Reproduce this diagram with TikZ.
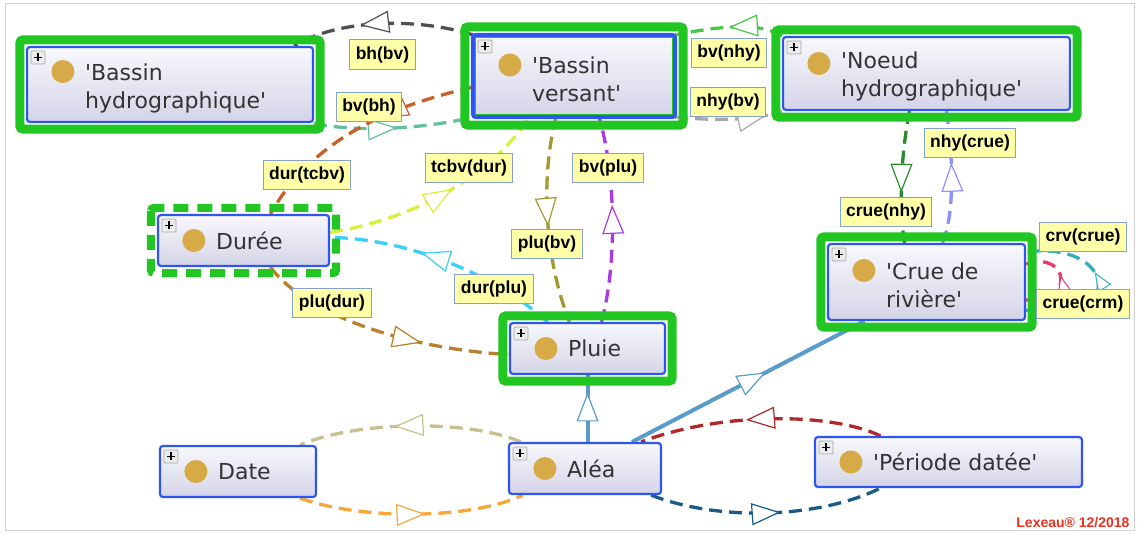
\documentclass[tikz,border=0pt]{standalone}
\usepackage{fontspec}
\usetikzlibrary{calc,arrows.meta,decorations.markings}
\newfontfamily\clsfont{DejaVu Sans}[Ligatures=TeXOff]
\newfontfamily\tagfont{Liberation Sans}
\definecolor{clsb}{HTML}{2F55F0}
\definecolor{frc}{HTML}{22C622}
\definecolor{dotc}{HTML}{D6AA46}
\definecolor{txtc}{HTML}{333333}
\definecolor{boxtop}{HTML}{F8F8FC}
\definecolor{boxbot}{HTML}{D4D4E8}
\definecolor{tagfill}{HTML}{FFFFA8}
\definecolor{tagline}{HTML}{86A2C8}
\definecolor{lexred}{HTML}{E8321E}
\definecolor{relgray}{HTML}{505050}
\definecolor{relteal}{HTML}{62C09E}
\definecolor{relrust}{HTML}{C8602A}
\definecolor{rellime}{HTML}{D8F03A}
\definecolor{relcyan}{HTML}{38D0F8}
\definecolor{relolive}{HTML}{A09A30}
\definecolor{relpurple}{HTML}{A83CE0}
\definecolor{relbrown}{HTML}{B8802A}
\definecolor{relgreen}{HTML}{48C848}
\definecolor{relsilver}{HTML}{A8A8A8}
\definecolor{reldkgreen}{HTML}{2A8A30}
\definecolor{relperi}{HTML}{8C90FF}
\definecolor{isac}{HTML}{5A9CC8}
\definecolor{relkhaki}{HTML}{C8C090}
\definecolor{relorange}{HTML}{F8A838}
\definecolor{relred}{HTML}{B02828}
\definecolor{relnavy}{HTML}{1A5A88}
\definecolor{relpink}{HTML}{F03870}
\definecolor{relturq}{HTML}{30B0B8}
\pgfdeclarelayer{bg}
\pgfsetlayers{bg,main}
\tikzset{
  tri/.tip={Triangle[length=29pt,width=22pt,fill=white,line width=1.2pt]},
  tris/.tip={Triangle[length=19pt,width=15pt,fill=white,line width=1pt]},
  cls/.style={draw=clsb,line width=2.2pt,rounded corners=3pt,top color=boxtop,bottom color=boxbot,inner sep=0pt},
  ctext/.style={anchor=west,align=left,inner sep=0pt,text=txtc,font=\clsfont\fontsize{22}{28}\selectfont},
  frame/.style={draw=frc,line width=9pt,rounded corners=3pt},
  pluss/.style={draw=gray!70,fill=gray!15,line width=0.7pt,rounded corners=1pt},
  tag/.style={draw=tagline,fill=tagfill,line width=1pt,inner xsep=6pt,inner ysep=6.5pt,font=\tagfont\bfseries\fontsize{17.5}{20}\selectfont},
  rel/.style={line width=3.3pt,dash pattern=on 13pt off 7pt},
  isa/.style={line width=4pt,isac},
  tipat/.style={postaction={decorate,decoration={markings,mark=at position #1 with {\arrow{tri}}}}},
  looptip/.style={postaction={decorate,decoration={markings,mark=at position #1 with {\arrow{tris}}}}}
}
\begin{document}
\begin{tikzpicture}[x=1pt,y=-1pt]
\useasboundingbox (0,0) rectangle (1137,533);
\draw[gray!35,line width=1pt] (5,3) rectangle (1134,530);
% classes
\foreach \n/\cx/\cy/\w/\h/\dy/\t in {
  bh/170/84.5/286/75/13/{'Bassin\\hydrographique'},
  bv/574/76/200/80/11/{'Bassin\\versant'},
  nhy/926.5/73.5/287/73/10/{'Noeud\\hydrographique'},
  dur/243.5/240.5/171/51/0/{Durée},
  crue/926.5/282/197/76/11.5/{'Crue de\\rivière'},
  plu/587.5/348.5/155/51/0/{Pluie},
  date/238/471.5/156/51/0/{Date},
  alea/585/468.5/152/51/0/{Aléa},
  per/948.5/462/267/50/0/{'Période datée'}}{
  \node[cls,minimum width=\w,minimum height=\h] (\n) at (\cx,\cy) {};
  \fill[dotc] ($(\n.west)+(37,-\dy)$) circle (11.5pt);
  \draw[pluss] ($(\n.north west)+(5,5)$) rectangle ($(\n.north west)+(19,18)$);
  \draw[line width=1.3pt] ($(\n.north west)+(8,11.5)$) -- ++(8,0) ($(\n.north west)+(12,7.5)$) -- ++(0,8);
  \node[ctext] (t\n) at ($(\n.west)+(59,0.3*\dy)$) {\t};
}
% frames
\foreach \n/\o in {bh/6,bv/8,nhy/6,crue/6,plu/6}
  \draw[frame] ($(\n.north west)+(-\o,-\o)$) rectangle ($(\n.south east)+(\o,\o)$);
\draw[frame,line width=8pt,dash pattern=on 15pt off 9pt] ($(dur.north west)+(-6,-6)$) rectangle ($(dur.south east)+(6,6)$);
\draw[clsb,line width=4pt,rounded corners=3pt] (bv.north west) rectangle (bv.south east);
\draw[frc,line width=1pt] ($(bv.north west)+(3,3)$) rectangle ($(bv.south east)+(-3,-3)$);
% relations
\begin{pgfonlayer}{bg}
\draw[rel,relgray,tipat=.62] (bv.north west) .. controls (420,18) and (340,18) .. ($(bh.north east)+(-20,0)$);
\draw[rel,relteal,tipat=.52] (bh.south east) .. controls (350,132) and (420,130) .. (bv.south west);
\draw[rel,relrust,tipat=.4] ($(bv.west)+(0,11)$) .. controls (420,100) and (320,125) .. ($(dur.north)+(27,0)$);
\draw[rel,rellime,tipat=.55] ($(dur.east)+(0,-8)$) .. controls (395,222) and (480,190) .. ($(bv.south)+(-44,0)$);
\draw[rel,relcyan,tipat=.61] ($(plu.north)+(-40,0)$) .. controls (490,270) and (400,238) .. ($(dur.east)+(0,-3)$);
\draw[rel,relolive,tipat=.53] ($(bv.south)+(-18,0)$) .. controls (540,180) and (545,260) .. ($(plu.north)+(-18,0)$);
\draw[rel,relpurple,tipat=.57] ($(plu.north)+(14,0)$) .. controls (618,260) and (615,170) .. ($(bv.south)+(25,0)$);
\draw[rel,relbrown,tipat=.66] ($(dur.south)+(27,0)$) .. controls (310,320) and (420,350) .. ($(plu.west)+(0,6)$);
\draw[rel,relgreen,tipat=.5] (nhy.north west) .. controls (760,22) and (720,26) .. (bv.north east);
\draw[rel,relsilver,tipat=.85] (bv.south east) .. controls (710,120) and (750,122) .. (nhy.south west);
\draw[rel,reldkgreen,tipat=.62] ($(nhy.south)+(-17,0)$) .. controls (902,150) and (898,200) .. ($(crue.north)+(-22,0)$);
\draw[rel,relperi,tipat=.61] ($(crue.north)+(16,0)$) .. controls (956,210) and (952,150) .. ($(nhy.south)+(20,0)$);
\draw[isa,tipat=.74] (plu.south |- alea.north) -- (plu.south);
\draw[isa,tipat=.576] ($(alea.north)+(47,0)$) -- ($(crue.south)+(-62,0)$);
\draw[rel,relkhaki,tipat=.57] ($(alea.north west)+(13,0)$) .. controls (470,420) and (360,420) .. ($(date.north east)+(-17,0)$);
\draw[rel,relorange,tipat=.56] ($(date.south east)+(-17,0)$) .. controls (360,520) and (470,520) .. ($(alea.south west)+(15,0)$);
\draw[rel,relred,tipat=.56] ($(per.north)+(-68,0)$) .. controls (830,412) and (720,412) .. ($(alea.north east)+(-21,0)$);
\draw[rel,relnavy,tipat=.56] ($(alea.south east)+(-11,0)$) .. controls (720,522) and (820,518) .. ($(per.south)+(-68,0)$);
\draw[rel,relpink,looptip=.55] ($(crue.east)+(0,18)$) .. controls (1075,305) and (1070,250) .. ($(crue.east)+(0,-18)$);
\draw[rel,relturq,looptip=.57] ($(crue.east)+(0,28)$) .. controls (1125,330) and (1120,240) .. ($(crue.east)+(0,-30)$);
\end{pgfonlayer}
% role labels
\foreach \n/\x/\y/\t in {lbhbv/382.5/54.5/bh(bv), lbvbh/369/107/bv(bh), lbvnhy/729/53/bv(nhy),
  lnhybv/728/102/nhy(bv), ldurtcbv/307/175/dur(tcbv), ltcbvdur/469/168/tcbv(dur),
  lbvplu/608/168/bv(plu), lnhycrue/970/143/nhy(crue), lcruenhy/886/212/crue(nhy),
  lplubv/547/244/plu(bv), ldurplu/494/289/dur(plu), lpludur/332/303/plu(dur),
  lcrvcrue/1083/237/crv(crue), lcruecrm/1083/304/crue(crm)}
  \node[tag] (\n) at (\x,\y) {\t};
\node[anchor=base east,text=lexred,font=\tagfont\bfseries\fontsize{14}{16}\selectfont] (sig) at (1133,527) {Lexeau® 12/2018};
\end{tikzpicture}
\end{document}
